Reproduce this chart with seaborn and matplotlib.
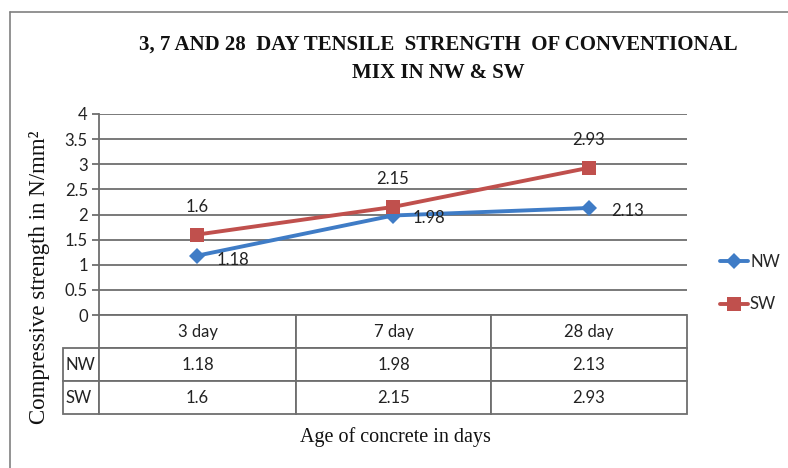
import matplotlib
matplotlib.use("Agg")
import matplotlib.pyplot as plt
import seaborn as sns
import pandas as pd
from matplotlib.lines import Line2D

categories = ["3 day", "7 day", "28 day"]
nw_values = [1.18, 1.98, 2.13]
sw_values = [1.6, 2.15, 2.93]
series_names = ["NW", "SW"]
yticks = [0, 0.5, 1, 1.5, 2, 2.5, 3, 3.5, 4]

sns.set_theme(style="white")
plt.rcParams['font.family'] = ['Lato', 'DejaVu Sans']

W, H = 788, 468
fig = plt.figure(figsize=(W / 100, H / 100), dpi=100)
x0, x1, ytop, ybot = 99, 687, 114, 315
ax = fig.add_axes([x0 / W, 1 - ybot / H, (x1 - x0) / W, (ybot - ytop) / H])

df = pd.DataFrame({
    "pos": list(range(len(categories))) * 2,
    "value": nw_values + sw_values,
    "series": ["NW"] * 3 + ["SW"] * 3,
})
colors = {"NW": "#3f7cc6", "SW": "#c0504d"}
markers = {"NW": "D", "SW": "s"}
sns.lineplot(data=df, x="pos", y="value", hue="series", style="series",
             palette=colors, markers=markers, dashes=False, linewidth=2.8,
             markersize=10, markeredgewidth=0, ax=ax, legend=False)
for ln in ax.lines:
    if ln.get_marker() == "D":
        ln.set_markersize(8.5)

ax.set_xlim(-0.5, 2.5)
ax.set_ylim(0, 4)
ax.set_yticks(yticks)
ax.set_yticklabels([f"{t:g}" for t in yticks], fontsize=12, color="#222222")
ax.set_xticks([])
ax.set_xlabel("")
ax.set_ylabel("")
ax.grid(axis="y", color="#6e6e6e", linewidth=1.3)
ax.grid(axis="x", visible=False)
for s in ["top", "right", "bottom"]:
    ax.spines[s].set_visible(False)
ax.spines["left"].set_color("#6e6e6e")
ax.spines["left"].set_linewidth(1.3)
ax.tick_params(axis="y", left=True, length=5, width=1.3, color="#6e6e6e", pad=3)

# data labels
for i, v in enumerate(sw_values):
    ax.annotate(f"{v:g}", (i, v), xytext=(0, 20), textcoords="offset points",
                ha="center", va="center", fontsize=12, color="#222222")
nw_dx = [14, 14, 16]
for i, v in enumerate(nw_values):
    ax.annotate(f"{v:g}", (i, v), xytext=(nw_dx[i], -2 if i else -3),
                textcoords="offset points",
                ha="left", va="center", fontsize=12, color="#222222")

# data table
tleft, tbot = 63, 414
cell_text = [[""] + categories,
             ["NW"] + [f"{v:g}" for v in nw_values],
             ["SW"] + [f"{v:g}" for v in sw_values]]
col_w = [x0 - tleft, 197, 195, x1 - 491]
tot = sum(col_w)
bbox = [(tleft - x0) / (x1 - x0), -(tbot - ybot) / (ybot - ytop),
        (x1 - tleft) / (x1 - x0), (tbot - ybot) / (ybot - ytop)]
tab = ax.table(cellText=cell_text, colWidths=[c / tot for c in col_w],
               bbox=bbox, cellLoc="center")
tab.auto_set_font_size(False)
for (r, c), cell in tab.get_celld().items():
    cell.set_edgecolor("#6e6e6e")
    cell.set_linewidth(1.3)
    cell.get_text().set_fontsize(12)
    cell.get_text().set_color("#222222")
    if c == 0:
        cell.get_text().set_ha("left")
        cell._loc = "left"
        cell.PAD = 0.06
    if r == 0 and c == 0:
        cell.visible_edges = ""

# legend
handles = [Line2D([0], [0], color=colors[n], marker=markers[n], lw=2.8,
                  markersize=8.5 if n == "NW" else 10, markeredgewidth=0) for n in series_names]
fig.legend(handles, series_names, loc="center left",
           bbox_to_anchor=(705 / W, 1 - 283 / H), frameon=False,
           handlelength=1.7, handletextpad=0.1, labelspacing=1.6, fontsize=12)

# titles and labels
fig.text(438 / W, 1 - 45 / H, "3, 7 AND 28  DAY TENSILE  STRENGTH  OF CONVENTIONAL",
         ha="center", va="center", fontsize=15, fontweight="bold",
         family=["Liberation Serif"], color="#111111")
fig.text(438 / W, 1 - 73 / H, "MIX IN NW & SW",
         ha="center", va="center", fontsize=15, fontweight="bold",
         family=["Liberation Serif"], color="#111111")
fig.text(40 / W, 1 - 277 / H, "Compressive strength in N/mm²", rotation=90,
         ha="center", va="center", fontsize=16.5, family=["Liberation Serif"], color="#111111")
fig.text(395 / W, 1 - 437 / H, "Age of concrete in days", ha="center", va="center",
         fontsize=14.5, family=["Liberation Serif"], color="#111111")

# outer border
fig.add_artist(Line2D([10 / W, 10 / W], [0, 1 - 12 / H], transform=fig.transFigure,
                      color="#808080", lw=1.2))
fig.add_artist(Line2D([10 / W, 1], [1 - 12 / H, 1 - 12 / H], transform=fig.transFigure,
                      color="#808080", lw=1.2))

fig.savefig("out.png", dpi=100)
